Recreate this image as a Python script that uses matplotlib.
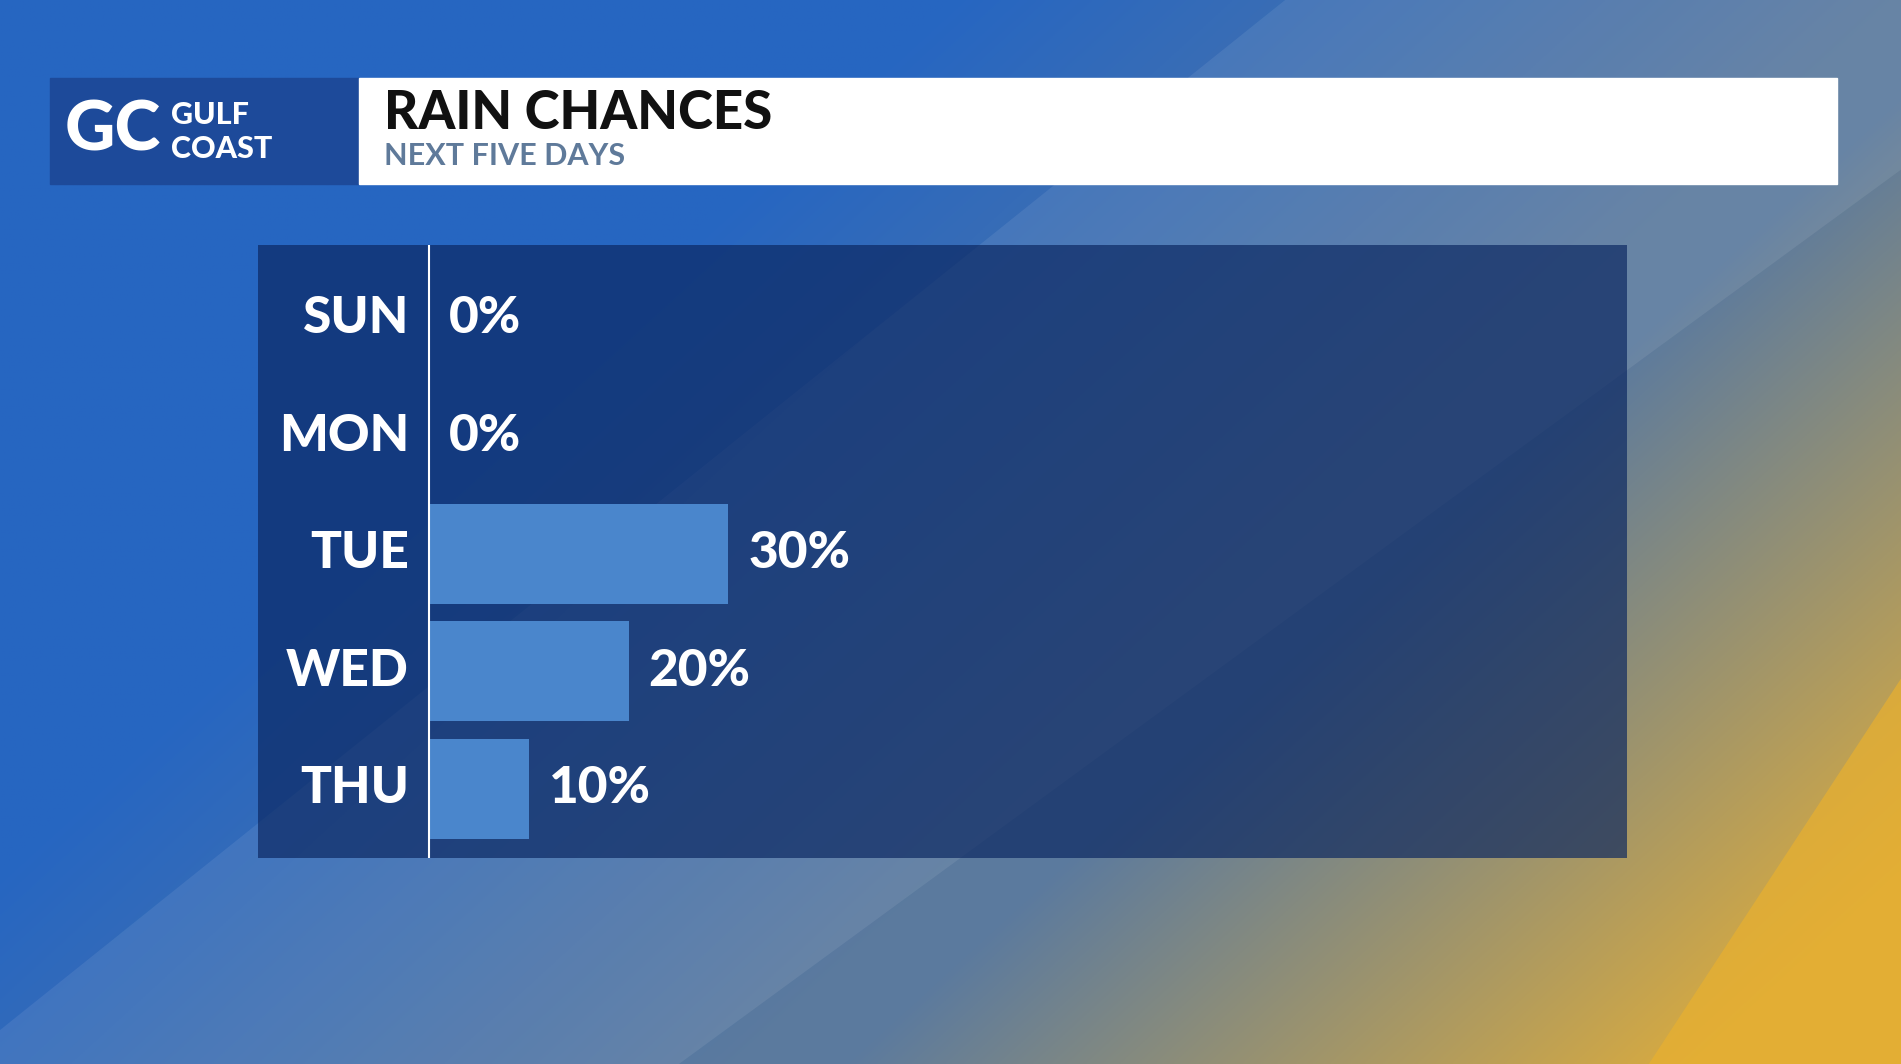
import numpy as np
import matplotlib
matplotlib.use("Agg")
import matplotlib.pyplot as plt
from matplotlib.patches import Rectangle, Polygon

days = ["SUN", "MON", "TUE", "WED", "THU"]
chances = [0, 0, 30, 20, 10]
title = "RAIN CHANCES"
subtitle = "NEXT FIVE DAYS"

W, H = 1568, 878
fig = plt.figure(figsize=(19.01, 10.64), dpi=100)

def fx(x): return x / W
def fy(y): return 1 - y / H

bg = fig.add_axes([0, 0, 1, 1]); bg.set_axis_off()
yy, xx = np.mgrid[0:H:2, 0:W:2]
d = (xx / W) * 0.9 + (yy / H) * 0.55
blue = np.array([0.15, 0.40, 0.76]); steel = np.array([0.36, 0.48, 0.62]); gold = np.array([0.85, 0.67, 0.25])
t1 = np.clip((d - 0.45) / 0.45, 0, 1)[..., None]
t2 = np.clip((d - 0.95) / 0.4, 0, 1)[..., None]
img = blue * (1 - t1) + steel * t1
img = img * (1 - t2) + gold * t2
bg.imshow(img, extent=[0, W, H, 0], aspect="auto")
bg.set_xlim(0, W); bg.set_ylim(H, 0)
bg.add_patch(Polygon([[1060, 0], [W, 0], [W, 140], [560, H], [0, H], [0, 850]], closed=True, color="white", alpha=0.08, lw=0))
bg.add_patch(Polygon([[1360, H], [W, 560], [W, H]], closed=True, color="#e8b030", alpha=0.7, lw=0))

bg.add_patch(Rectangle((41, 64), 255, 88, color="#1d4a9a"))
bg.add_patch(Rectangle((296, 64), 1219, 88, color="white"))
bg.text(317, 94, title, fontsize=38, fontweight="black", family="Lato", color="#111111", va="center")
bg.text(317, 129, subtitle, fontsize=22, fontweight="bold", family="Lato", color="#5f7a9a", va="center")
bg.text(53, 108, "GC", fontsize=50, fontweight="black", family="Lato", color="white", va="center")
bg.text(141, 95, "GULF", fontsize=22, fontweight="black", family="Lato", color="white", va="center")
bg.text(141, 123, "COAST", fontsize=22, fontweight="black", family="Lato", color="white", va="center")

bg.add_patch(Rectangle((213, 202), 1129, 506, color="#0a2660", alpha=0.68, lw=0))

ax = fig.add_axes([fx(213), fy(708), fx(1342) - fx(213), fy(202) - fy(708)])
ax.patch.set_alpha(0)
for s in ax.spines.values(): s.set_visible(False)
ax.set_xticks([]); ax.set_yticks([])
ax.set_xlim(-17.1, 120)
ax.set_ylim(4.59, -0.63)
ypos = np.arange(len(days))
ax.barh(ypos, chances, height=0.85, color="#4a86cc")
ax.axvline(0, color="white", lw=1.5)
for y, dname, c in zip(ypos, days, chances):
    ax.text(-2, y, dname, ha="right", va="center", fontsize=37, fontweight="black", family="Lato", color="white")
    ax.text(c + 2, y, f"{c}%", ha="left", va="center", fontsize=37, fontweight="black", family="Lato", color="white")

fig.savefig("out.png", dpi=100)
